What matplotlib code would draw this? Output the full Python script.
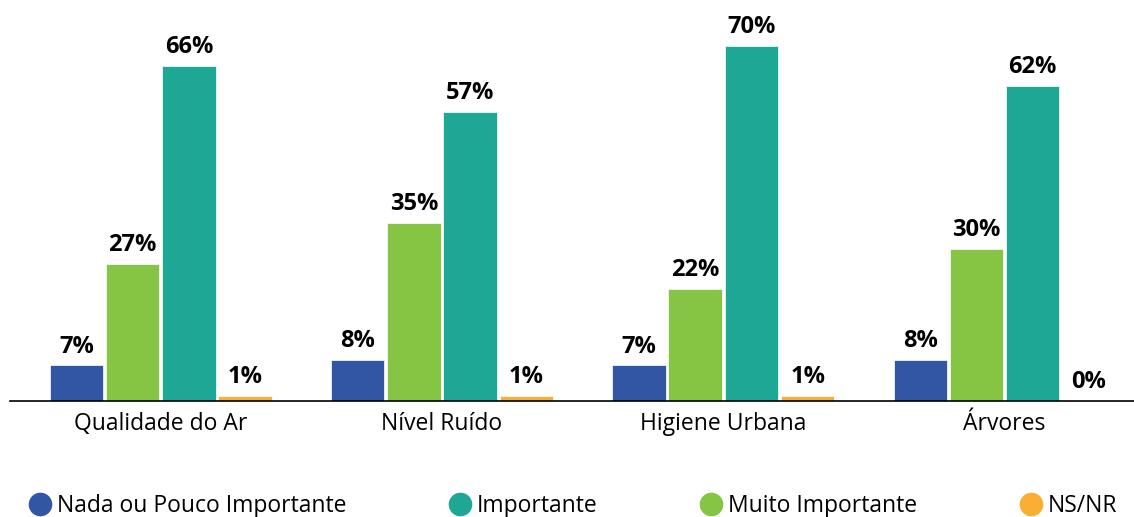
import matplotlib
matplotlib.use("Agg")
import matplotlib.pyplot as plt
from matplotlib.lines import Line2D
import numpy as np

plt.rcParams['font.family'] = ['Open Sans', 'DejaVu Sans']

categories = ["Qualidade do Ar", "Nível Ruído", "Higiene Urbana", "Árvores"]
series_names = ["Nada ou Pouco Importante", "Muito Importante", "Importante", "NS/NR"]
nada = [7, 8, 7, 8]
muito = [27, 35, 22, 30]
importante = [66, 57, 70, 62]
nsnr = [1, 1, 1, 0]
values = [nada, muito, importante, nsnr]
colors = ["#3256A4", "#86C443", "#1FA795", "#FBAE34"]
legend_order = [0, 2, 1, 3]

fig = plt.figure(figsize=(11.34, 5.17), dpi=100)
ax = fig.add_axes([10/1134, (517-401)/517, 1 - 10/1134, 401/517])

x = np.arange(len(categories))
slot = 0.2
width = 0.19
for i, (vals, col) in enumerate(zip(values, colors)):
    pos = x + (i - 1.5) * slot
    ax.bar(pos, vals, width=width, color=col, edgecolor="white", linewidth=0.5)
    for p, v in zip(pos, vals):
        ax.annotate(f"{v}%", (p, v), xytext=(0, 5), textcoords="offset points",
                    ha="center", va="bottom", fontsize=17, fontweight="bold")

ax.set_xlim(-0.536, 3.46)
ax.set_ylim(0, 79)
for s in ["top", "right", "left"]:
    ax.spines[s].set_visible(False)
ax.spines["bottom"].set_linewidth(1.2)
ax.set_yticks([])
ax.set_xticks(x)
ax.set_xticklabels(categories, fontsize=16.5)
ax.tick_params(axis="x", length=0, pad=8)

handles = [Line2D([0], [0], marker="o", linestyle="none", markersize=16,
                  markerfacecolor=colors[i], markeredgecolor=colors[i]) for i in legend_order]
labels = [series_names[i] for i in legend_order]
fig.legend(handles, labels, loc="center left", bbox_to_anchor=(0.025, 0.021), ncol=4,
           frameon=False, fontsize=16.5, columnspacing=4.45, handletextpad=0.25,
           handlelength=1.0, borderaxespad=0, borderpad=0)

fig.savefig("out.png", dpi=100)
